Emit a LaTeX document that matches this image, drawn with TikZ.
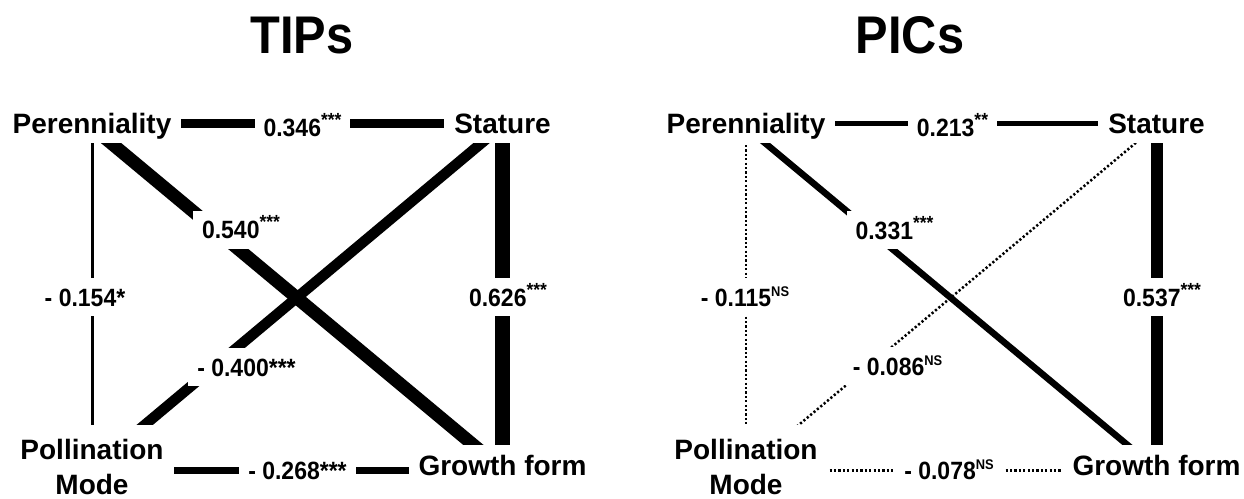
\documentclass[tikz,border=0pt]{standalone}
\usepackage{fontspec}
\setmainfont{Liberation Sans}
\newfontfamily\narrowfont[FakeStretch=0.92]{Liberation Sans}
\usetikzlibrary{backgrounds}

\newcommand{\sig}[1]{\raisebox{10pt}{\fontsize{19}{19}\selectfont #1}}
\newcommand{\nsig}{\raisebox{10pt}{\fontsize{14}{14}\selectfont NS}}

\begin{document}
\begin{tikzpicture}[x=1pt, y=-1pt,
  var/.style={font=\fontsize{28}{35}\selectfont\bfseries, fill=white,
    text height=20pt, text depth=0pt, inner xsep=10pt, inner ysep=10pt},
  varm/.style={font=\fontsize{28}{35}\selectfont\bfseries, fill=white,
    align=center, inner xsep=10pt, inner ysep=14pt},
  coef/.style={font=\narrowfont\fontsize{25}{25}\selectfont\bfseries, fill=white,
    text height=18pt, text depth=0pt, inner xsep=9pt, inner ysep=10pt},
  ttl/.style={font=\narrowfont\fontsize{53}{53}\selectfont\bfseries,
    text height=38pt, text depth=0pt, inner sep=0pt},
  ns/.style={line width=2.5pt, dash pattern=on 2.2pt off 2.2pt}]
  \useasboundingbox (0,0) rectangle (1244,498);

  % TIPs
  \node[ttl] (ttips) at (302,34) {TIPs};
  \node[var] (tper) at (92,123) {Perenniality};
  \node[var] (tsta) at (502.5,123) {Stature};
  \node[var] (tgro) at (502.5,465) {Growth form};
  \node[varm] (tpol) at (92,466.5) {Pollination\\Mode};
  \node[coef] (t346) at (302.5,127.5) {0.346\sig{***}};
  \node[coef] (t154) at (85,297) {- 0.154*};
  \node[coef] (t626) at (508,297) {0.626\sig{***}};
  \node[coef] (t540) at (241,229.5) {0.540\sig{***}};
  \node[coef] (t400) at (246.5,367) {- 0.400***};
  \node[coef] (t268) at (297.5,470) {- 0.268***};
  \begin{scope}[on background layer]
    \draw[line width=9pt] (tper.center) -- (tsta.center);
    \draw[line width=3pt] (tper.center) -- (tpol.center);
    \draw[line width=15pt] (tsta.center) -- (tgro.center);
    \draw[line width=13pt] ([xshift=-5pt]tper.center) -- ([xshift=-5pt]tgro.center);
    \draw[line width=10.5pt] ([xshift=3pt]tsta.center) -- ([xshift=3pt]tpol.center);
    \draw[line width=7pt] ([yshift=-4pt]tpol.center) -- ([yshift=-4pt]tpol.center -| tgro.center);
  \end{scope}

  % PICs
  \begin{scope}[xshift=654pt]
    \node[ttl] (ppics) at (256,34) {PICs};
    \node[var] (pper) at (92,123) {Perenniality};
    \node[var] (psta) at (502.5,123) {Stature};
    \node[var] (pgro) at (502.5,465) {Growth form};
    \node[varm] (ppol) at (92,466.5) {Pollination\\Mode};
    \node[coef] (p213) at (298.5,127.5) {0.213\sig{**}};
    \node[coef] (p115) at (91,297) {- 0.115\nsig};
    \node[coef] (p537) at (508,297) {0.537\sig{***}};
    \node[coef] (p331) at (240.5,230) {0.331\sig{***}};
    \node[coef] (p086) at (243.5,366) {- 0.086\nsig};
    \node[coef] (p078) at (295,470) {- 0.078\nsig};
    \begin{scope}[on background layer]
      \draw[line width=5pt] (pper.center) -- (psta.center);
      \draw[ns] (pper.center) -- (ppol.center);
      \draw[line width=12pt] (psta.center) -- (pgro.center);
      \draw[line width=6.5pt] ([xshift=-5pt]pper.center) -- ([xshift=-5pt]pgro.center);
      \draw[ns] ([xshift=3pt]psta.center) -- ([xshift=3pt]ppol.center);
      \draw[ns] ([yshift=-4pt]ppol.center) -- ([yshift=-4pt]ppol.center -| pgro.center);
    \end{scope}
  \end{scope}
\end{tikzpicture}
\end{document}
